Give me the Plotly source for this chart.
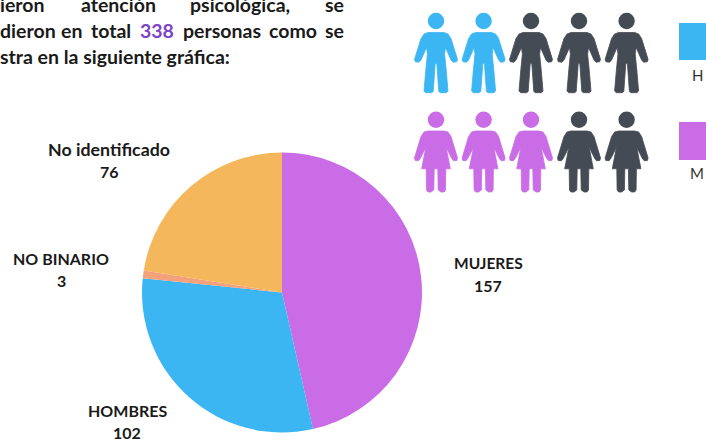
import plotly.graph_objects as go

W, H = 706, 439

# Data
categories = ["MUJERES", "HOMBRES", "NO BINARIO", "No identificado"]
values = [157, 102, 3, 76]
colors = ["#C96CE6", "#3BB6F2", "#F4A27C", "#F4B75C"]
label_centers = [(488, 274), (127, 421), (61, 269.5), (109, 160.5)]
label_sizes = [15.5, 16, 16, 17.8]

men_colors = ["#3BB6F2", "#3BB6F2", "#454B54", "#454B54", "#454B54"]
women_colors = ["#C96CE6", "#C96CE6", "#C96CE6", "#454B54", "#454B54"]
icon_x = [436, 483.6, 531, 579, 626.6]

line1 = [("ieron", 0), ("atención", 81), ("psicológica,", 190), ("se", 325)]
line2 = [("dieron", 0), ("en", 61), ("total", 91), ("338", 140), ("personas", 183), ("como", 269), ("se", 325)]
line3 = [("stra en la siguiente gráfica:", 0)]


def px(x):
    return x / W


def py(y):
    return 1 - y / H


def path(points):
    out = []
    for p in points:
        cmd, coords = p[0], p[1:]
        parts = []
        for i in range(0, len(coords), 2):
            parts.append(f"{px(coords[i]):.5f},{py(coords[i + 1]):.5f}")
        out.append(cmd + " ".join(parts))
    return " ".join(out) + " Z"


MAN_RIGHT = [(0.8, 63.5), (2.8, 91.5), (4.5, 92.7), (10.3, 92.7), (12, 91), (10.2, 70), (8.6, 54), (9.5, 47.5),
             (15, 60), (17, 62.2), (20.6, 61.8), (21.5, 59.5), (15, 38.5), (12, 34), (8, 32.5)]
WOMAN_RIGHT = [(1.8, 168.8), (2.2, 190), (5, 192), (8, 192), (9.5, 190), (9.8, 168.8), (14.3, 168.8), (10.2, 147.5),
               (15.5, 158), (17.5, 160.7), (20.8, 160.5), (21.5, 158), (15, 136.5), (12, 132), (8, 131)]


def silhouette(cx, right, crotch):
    pts = [("M", cx, crotch)]
    for dx, y in right:
        pts.append(("L", cx + dx, y))
    for dx, y in reversed(right):
        pts.append(("L", cx - dx, y))
    return path(pts)


shapes = []
for cx, c in zip(icon_x, men_colors):
    shapes.append(dict(type="circle", xref="paper", yref="paper", x0=px(cx - 8.2), x1=px(cx + 8.2),
                       y0=py(12.8), y1=py(29.2), fillcolor=c, line_width=0))
    shapes.append(dict(type="path", xref="paper", yref="paper", path=silhouette(cx, MAN_RIGHT, 63.5),
                       fillcolor=c, line=dict(color=c, width=0.8)))
for cx, c in zip(icon_x, women_colors):
    shapes.append(dict(type="circle", xref="paper", yref="paper", x0=px(cx - 8.2), x1=px(cx + 8.2),
                       y0=py(111.5), y1=py(127.9), fillcolor=c, line_width=0))
    shapes.append(dict(type="path", xref="paper", yref="paper", path=silhouette(cx, WOMAN_RIGHT, 168.8),
                       fillcolor=c, line=dict(color=c, width=0.8)))

for y0, y1, c in [(23, 60, "#3BB6F2"), (122, 160, "#C96CE6")]:
    shapes.append(dict(type="rect", xref="paper", yref="paper", x0=px(679), x1=px(712),
                       y0=py(y0), y1=py(y1), fillcolor=c, line_width=0))

anns = []


def text(s, x, y, size=16, color="#1A1A1A", weight=700, anchor="left"):
    anns.append(dict(text=s, x=px(x), y=py(y), xref="paper", yref="paper", xanchor=anchor, yanchor="middle",
                     showarrow=False, borderpad=0, borderwidth=0,
                     font=dict(family="Lato", size=size, color=color, weight=weight)))


for w, x in line1:
    text(w, x, 5, size=19.5)
for w, x in line2:
    text(w, x, 30, size=19.5, color="#7F42C9" if w == "338" else "#1A1A1A")
for w, x in line3:
    text(w, x, 57, size=19.5)

for name, val, (cx, cy), fs in zip(categories, values, label_centers, label_sizes):
    text(name, cx, cy - 11, size=fs, anchor="center")
    text(str(val), cx, cy + 11, size=16, anchor="center")

text("H", 697, 74.5, size=15, color="#333333", weight=400, anchor="center")
text("M", 696.5, 172.5, size=15, color="#333333", weight=400, anchor="center")

fig = go.Figure(go.Pie(
    labels=categories, values=values, sort=False, direction="clockwise", rotation=0,
    marker=dict(colors=colors, line=dict(width=0)), textinfo="none", showlegend=False,
    domain=dict(x=[px(142), px(422)], y=[py(432.5), py(152.5)]), hoverinfo="label+value",
))
fig.update_layout(width=W, height=H, margin=dict(l=0, r=0, t=0, b=0), paper_bgcolor="white",
                  plot_bgcolor="white", shapes=shapes, annotations=anns, showlegend=False)
fig.write_html("out.html", config=dict(displayModeBar=False),
               post_script="document.body.style.margin='0';document.documentElement.style.overflow='hidden';")
